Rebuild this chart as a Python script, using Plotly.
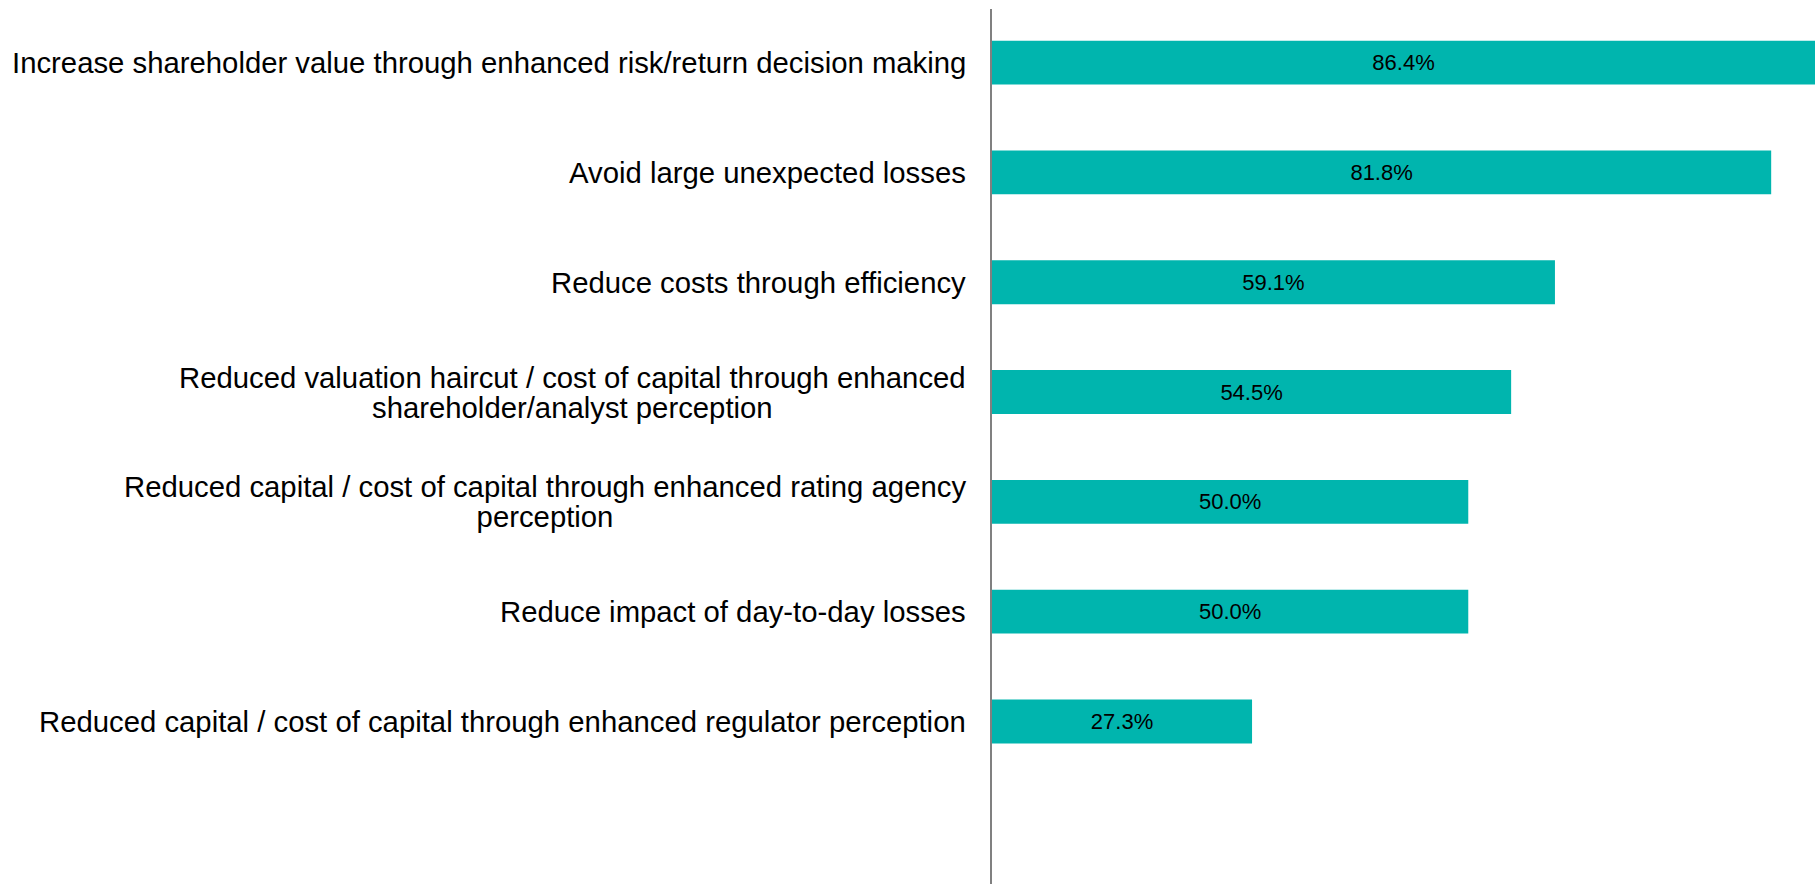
import plotly.graph_objects as go

# Share of respondents citing each benefit (%)
categories = [
    "Increase shareholder value through enhanced risk/return decision making",
    "Avoid large unexpected losses",
    "Reduce costs through efficiency",
    "Reduced valuation haircut / cost of capital through enhanced<br>shareholder/analyst perception",
    "Reduced capital / cost of capital through enhanced rating agency<br>perception",
    "Reduce impact of day-to-day losses",
    "Reduced capital / cost of capital through enhanced regulator perception",
]
values = [86.4, 81.8, 59.1, 54.5, 50.0, 50.0, 27.3]
positions = list(range(len(categories)))

BAR_COLOR = "#00B5AE"
FONT = "Liberation Sans, Arial, sans-serif"
LABEL_SIZE = 29.3
LINE_BASE = 23  # base size of the annotation; sets the tighter line spacing


def styled(label):
    # wrap every line in a span so glyphs use LABEL_SIZE while line spacing follows LINE_BASE
    return "<br>".join(
        f'<span style="font-size:{LABEL_SIZE}px">{line}</span>' for line in label.split("<br>")
    )


fig = go.Figure(
    go.Bar(
        x=values,
        y=positions,
        orientation="h",
        marker=dict(color=BAR_COLOR, line=dict(width=0)),
        texttemplate="%{x:.1f}%",
        textposition="inside",
        insidetextanchor="middle",
        textfont=dict(family=FONT, size=22, color="black"),
        hoverinfo="skip",
    )
)

# Category labels: right-aligned block, lines centred within it
for pos, label in zip(positions, categories):
    fig.add_annotation(
        x=0, xref="paper", y=pos, yref="y",
        text=styled(label), showarrow=False,
        xanchor="right", yanchor="middle", align="center",
        xshift=-24,
        font=dict(family=FONT, size=LINE_BASE, color="black"),
    )

fig.update_layout(
    width=1818, height=884,
    margin=dict(l=992, r=3, t=9, b=0),
    paper_bgcolor="white", plot_bgcolor="white",
    bargap=0.6,
    showlegend=False,
    font=dict(family=FONT),
    xaxis=dict(range=[0, 86.4], visible=False, fixedrange=True),
    yaxis=dict(
        range=[7.48, -0.488],
        showticklabels=False, showgrid=False, zeroline=False,
        showline=True, linecolor="#808080", linewidth=1.5,
        ticks="", fixedrange=True,
    ),
)

fig.write_html("out.html")
